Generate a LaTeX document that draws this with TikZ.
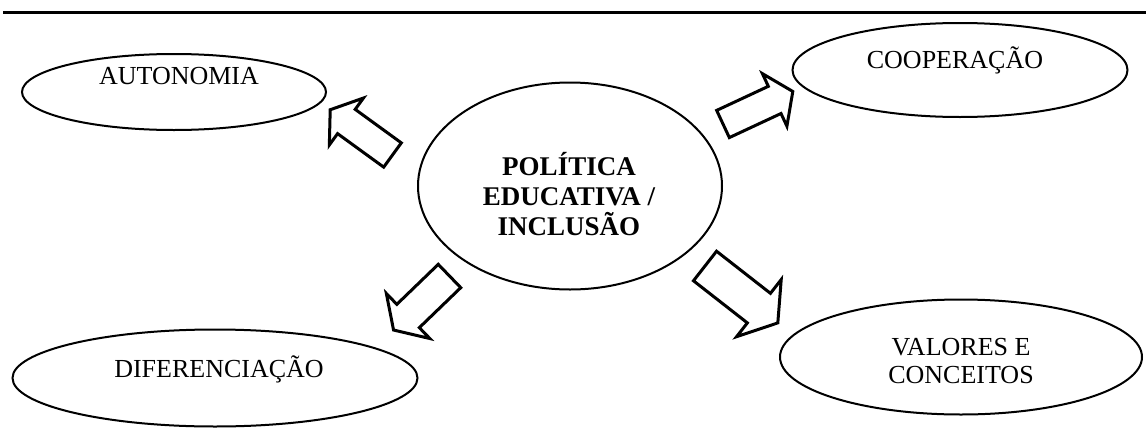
\documentclass[tikz,border=0pt]{standalone}
\usepackage{fontspec}
\setmainfont{Liberation Serif}
\usetikzlibrary{shapes.geometric,calc}

\begin{document}
\begin{tikzpicture}[x=1pt, y=-1pt,
                    every idea/.style = {draw=black, line width=2pt},
                    idea/.style = {ellipse, every idea, inner sep=0pt},
                    idea text/.style = {font=\fontsize{26}{28}\selectfont, align=center, inner sep=0pt},
                    main text/.style = {font=\bfseries\fontsize{27}{30}\selectfont, align=center, inner sep=0pt},
                    fat arrow/.pic = {\draw[line width=3pt, line join=miter]
                            (0,-15) -- (57,-15) -- (57,-29) -- (77,0) -- (57,29) -- (57,15) -- (0,15) -- cycle;} ]

                \useasboundingbox (0,0) rectangle (1146,434);
                \coordinate (rule w) at (3,12);
                \coordinate (rule e) at (1146,12);
                \draw[line width=3pt] (rule w) -- (rule e);

                % centre
                \node [idea, minimum width=304pt, minimum height=207pt] (pol) at (570,186) {};
                \node [main text] (pol txt) at (569,194) {POLÍTICA\\ EDUCATIVA /\\ INCLUSÃO};

                % four ideas around it
                \node [idea, minimum width=304pt, minimum height=76pt] (auto) at (174,92) {};
                \node [idea text] (auto txt) at (179,76) {AUTONOMIA};
                \node [idea, minimum width=335pt, minimum height=94pt] (coop) at (960,70) {};
                \node [idea text, anchor=base] (coop txt) at (955,68) {COOPERAÇÃO};
                \node [idea, minimum width=405pt, minimum height=97pt] (dif) at (215,378) {};
                \node [idea text, anchor=base] (dif txt) at (219,377) {DIFERENCIAÇÃO};
                \node [idea, minimum width=362pt, minimum height=115pt] (val) at (961,357) {};
                \node [idea text] (val txt) at (961,361) {VALORES E\\ CONCEITOS};

                % block arrows, drawn from their tails
                \pic [rotate=144] (to auto) at (392.5,155) {fat arrow};
                \pic [rotate=25] (to coop) at (723,124) {fat arrow};
                \pic [rotate=224, xscale=1.01, yscale=1.08] (to dif) at (449.5,276) {fat arrow};
                \pic [rotate=-38, xscale=1.2, yscale=1.25] (to val) at (705,266) {fat arrow};
\end{tikzpicture}
\end{document}
